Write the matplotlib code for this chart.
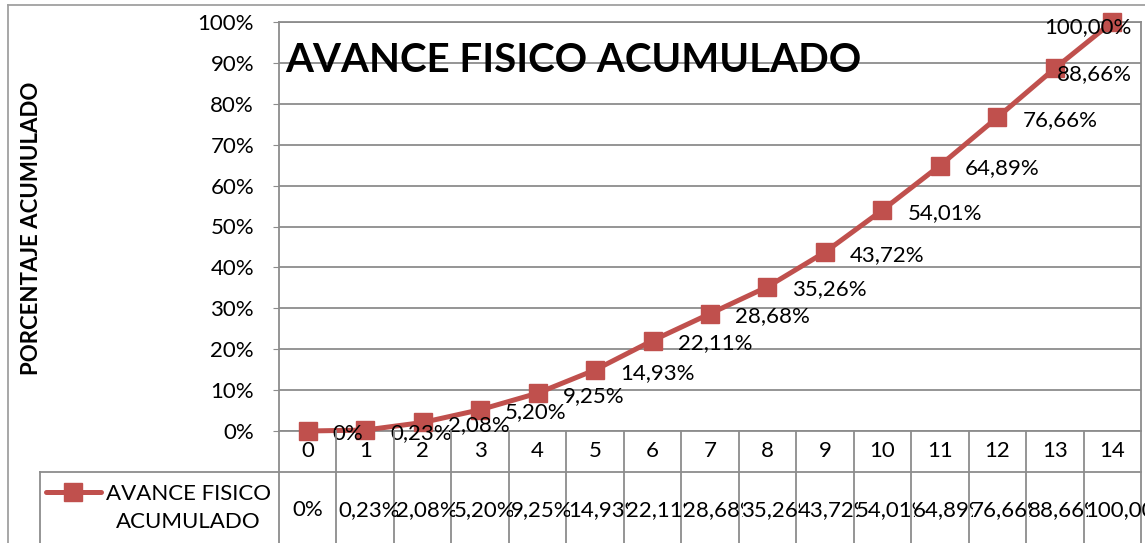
import matplotlib
matplotlib.use("Agg")
import matplotlib.pyplot as plt
import matplotlib.transforms as mtransforms
from matplotlib.lines import Line2D

plt.rcParams['font.family'] = ['Lato', 'DejaVu Sans']

# data
periodos = list(range(15))
avance = [0, 0.23, 2.08, 5.20, 9.25, 14.93, 22.11, 28.68, 35.26, 43.72,
          54.01, 64.89, 76.66, 88.66, 100.00]
serie = "AVANCE FISICO\nACUMULADO"
titulo = "AVANCE FISICO ACUMULADO"
ylabel = "PORCENTAJE ACUMULADO"


def fmt(v):
    if v == 0:
        return "0%"
    return ("%.2f" % v).replace('.', ',') + "%"


W, H = 1145, 543
rojo = '#C0504D'
gris = '#8C8C8C'

fig = plt.figure(figsize=(W / 100, H / 100), dpi=100)


def fx(x):
    return x / W


def fy(y):
    return 1 - y / H


x0, x1, ytop, ybot = 279, 1141, 22, 431
ax = fig.add_axes([fx(x0), fy(ybot), fx(x1 - x0), (ybot - ytop) / H])
ax.set_xlim(-0.5, 14.5)
ax.set_ylim(0, 100)
ax.set_yticks(range(0, 101, 10))
ax.set_yticklabels(["%d%%" % t for t in range(0, 101, 10)], fontsize=16)
ax.set_xticks([])
ax.tick_params(axis='y', length=4, color=gris, pad=14)
ax.yaxis.grid(True, color=gris, lw=1.3)
ax.set_axisbelow(True)
for s in ax.spines.values():
    s.set_color(gris)
    s.set_linewidth(1.3)

ax.plot(periodos, avance, color=rojo, lw=3.6, marker='s', ms=13,
        mec=rojo, mfc=rojo, zorder=3, clip_on=False)

# data labels to the right of the points
anns = []
for i, v in zip(periodos, avance):
    a = ax.annotate(fmt(v), (i, v), xytext=(18, -2), textcoords='offset points',
                    ha='left', va='center', fontsize=16, zorder=4,
                    annotation_clip=False)
    anns.append(a)

ax.text((285 - x0) / (x1 - x0), 1 - (60 - ytop) / (ybot - ytop), titulo,
        transform=ax.transAxes, fontsize=29, fontweight='bold',
        ha='left', va='center', zorder=5)

fig.text(fx(32), fy(228), ylabel, rotation=90, fontsize=16, fontweight='bold',
         ha='center', va='center')

# outer chart border
fig.add_artist(Line2D([fx(8), fx(8)], [fy(5), 0], transform=fig.transFigure,
                      color='#A0A0A0', lw=1.3))
fig.add_artist(Line2D([fx(8), 1], [fy(5), fy(5)], transform=fig.transFigure,
                      color='#A0A0A0', lw=1.3))

# data table below the plot
tr = mtransforms.blended_transform_factory(ax.transData, fig.transFigure)
yhead = 472
for k in range(len(periodos) + 1):
    xb = k - 0.5
    fig.add_artist(Line2D([xb, xb], [fy(ybot), 0], transform=tr, color=gris, lw=1.3))
fig.add_artist(Line2D([fx(40), fx(x1)], [fy(yhead), fy(yhead)],
                      transform=fig.transFigure, color=gris, lw=1.3))
fig.add_artist(Line2D([fx(40), fx(40)], [fy(yhead), 0],
                      transform=fig.transFigure, color=gris, lw=1.3))

for i in periodos:
    fig.text(i, fy(451), str(i), transform=tr, ha='center', va='center', fontsize=16)

vals = []
for i, v in zip(periodos, avance):
    t = fig.text(i, fy(510), fmt(v), transform=tr, ha='center', va='center',
                 fontsize=16)
    vals.append(t)

# legend key in row header
fig.add_artist(Line2D([fx(46), fx(101)], [fy(492), fy(492)], transform=fig.transFigure,
                      color=rojo, lw=3.6, solid_capstyle='round'))
fig.add_artist(Line2D([fx(73)], [fy(492)], transform=fig.transFigure,
                      color=rojo, marker='s', ms=13, mec=rojo, mfc=rojo))
fig.text(fx(188), fy(508), serie, ha='center', va='center', fontsize=16,
         multialignment='center', linespacing=1.45)

fig.canvas.draw()
r = fig.canvas.get_renderer()
pt = fig.dpi / 72.0

# keep last labels inside the chart area
lim = x1 - 9
for a in anns:
    bb = a.get_window_extent(r)
    if bb.x1 > lim:
        dx = (bb.x1 - lim) / pt
        a.xyann = (a.xyann[0] - dx, a.xyann[1] - 2)

# overflowing table values: left aligned, clipped at cell
for i, t in zip(periodos, vals):
    bb = t.get_window_extent(r)
    cx0 = tr.transform((i - 0.5, 0))[0]
    cx1 = tr.transform((i + 0.5, 0))[0]
    if bb.width > cx1 - cx0 - 4:
        t.set_ha('left')
        t.set_x(i - 0.5 + 2.0 / ((x1 - x0) / 15))
        clip = mtransforms.Bbox([[cx0, 0], [cx1 + 4, fy(yhead) * H]])
        t.set_clip_box(clip)
        t.set_clip_on(True)

fig.savefig('out.png', dpi=100)
